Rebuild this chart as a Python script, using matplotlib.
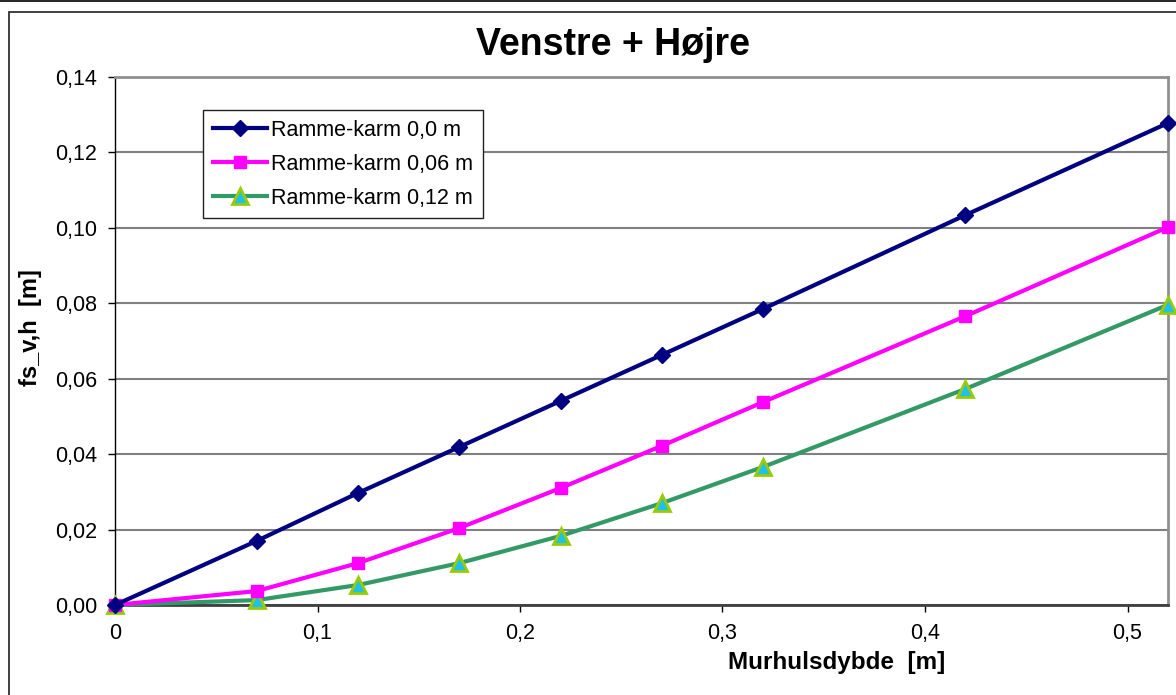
import numpy as np
import matplotlib.pyplot as plt
from matplotlib.patches import Rectangle
from matplotlib.lines import Line2D

plt.rcParams['font.family'] = ['Liberation Sans', 'DejaVu Sans']

# murhulsdybde [m]
depth = [0, 0.07, 0.12, 0.17, 0.22, 0.27, 0.32, 0.42, 0.52]
# fs_v,h [m] for each ramme-karm distance
fs_00 = [0.0, 0.0170, 0.0297, 0.0419, 0.0541, 0.0663, 0.0785, 0.1034, 0.1278]
fs_006 = [0.0, 0.0037, 0.0111, 0.0204, 0.0310, 0.0422, 0.0538, 0.0766, 0.1002]
fs_012 = [0.0, 0.0013, 0.0053, 0.0111, 0.0183, 0.0270, 0.0366, 0.0573, 0.0796]
labels = ["Ramme-karm 0,0 m", "Ramme-karm 0,06 m", "Ramme-karm 0,12 m"]

W, H = 1176, 695
fig = plt.figure(figsize=(W / 100, H / 100), dpi=100)

# outer chart frame like excel
fig.add_artist(Line2D([0, 1], [1 - 0.5 / H, 1 - 0.5 / H], color='black', lw=1.2, transform=fig.transFigure))
fig.add_artist(Rectangle((9 / W, -0.1), 1.2, 1 - 12 / H + 0.1, transform=fig.transFigure,
                         fill=False, edgecolor='#202020', lw=1.2))

ax = fig.add_axes([115 / W, (H - 605) / H, 1053 / W, 528 / H])

ax.plot(depth, fs_00, color='#000080', lw=3, marker='D', ms=8.5, mfc='#000080', mec='#000080',
        label=labels[0], clip_on=False, zorder=5)
ax.plot(depth, fs_006, color='#FF00FF', lw=3, marker='s', ms=9, mfc='#FF00FF', mec='#FF00FF',
        label=labels[1], clip_on=False, zorder=4)
ax.plot(depth, fs_012, color='#339966', lw=3, marker='^', ms=11, mfc='#1EC0F0', mec='#99CC00',
        mew=2, label=labels[2], clip_on=False, zorder=3)

ax.set_xlim(0, 0.52)
ax.set_ylim(0, 0.14)
yt = np.arange(0, 0.141, 0.02)
ax.set_yticks(yt)
ax.set_yticklabels([f"{v:.2f}".replace('.', ',') for v in yt])
xt = [0, 0.1, 0.2, 0.3, 0.4, 0.5]
ax.set_xticks(xt)
ax.set_xticklabels(["0", "0,1", "0,2", "0,3", "0,4", "0,5"])
ax.tick_params(axis='both', direction='out', length=5, width=1, labelsize=15.5, pad=8, color='black')

ax.yaxis.grid(True, color='#808080', lw=1.5)
ax.set_axisbelow(True)
ax.spines['left'].set_color('black')
ax.spines['left'].set_linewidth(1)
ax.spines['bottom'].set_color('#404040')
ax.spines['bottom'].set_linewidth(2)
for s in ['top', 'right']:
    ax.spines[s].set_color('#909090')
    ax.spines[s].set_linewidth(2)

fig.text(613 / W, 1 - 45 / H, "Venstre + Højre", ha='center', va='center', fontsize=27, fontweight='bold')
fig.text(837 / W, 1 - 662 / H, "Murhulsdybde  [m]", ha='center', va='center', fontsize=17.5, fontweight='bold')
fig.text(30 / W, 1 - 328 / H, "fs_v,h  [m]", ha='center', va='center', rotation=90, fontsize=17, fontweight='bold')

leg = ax.legend(loc='upper left', bbox_to_anchor=(203 / W, 1 - 110 / H), bbox_transform=fig.transFigure,
                borderaxespad=0, fontsize=15.5, fancybox=False, framealpha=1, edgecolor='#202020',
                handlelength=2.5, handletextpad=0.2, labelspacing=0.6, borderpad=0.45)
leg.get_frame().set_linewidth(1)

fig.savefig("out.png", dpi=100)
